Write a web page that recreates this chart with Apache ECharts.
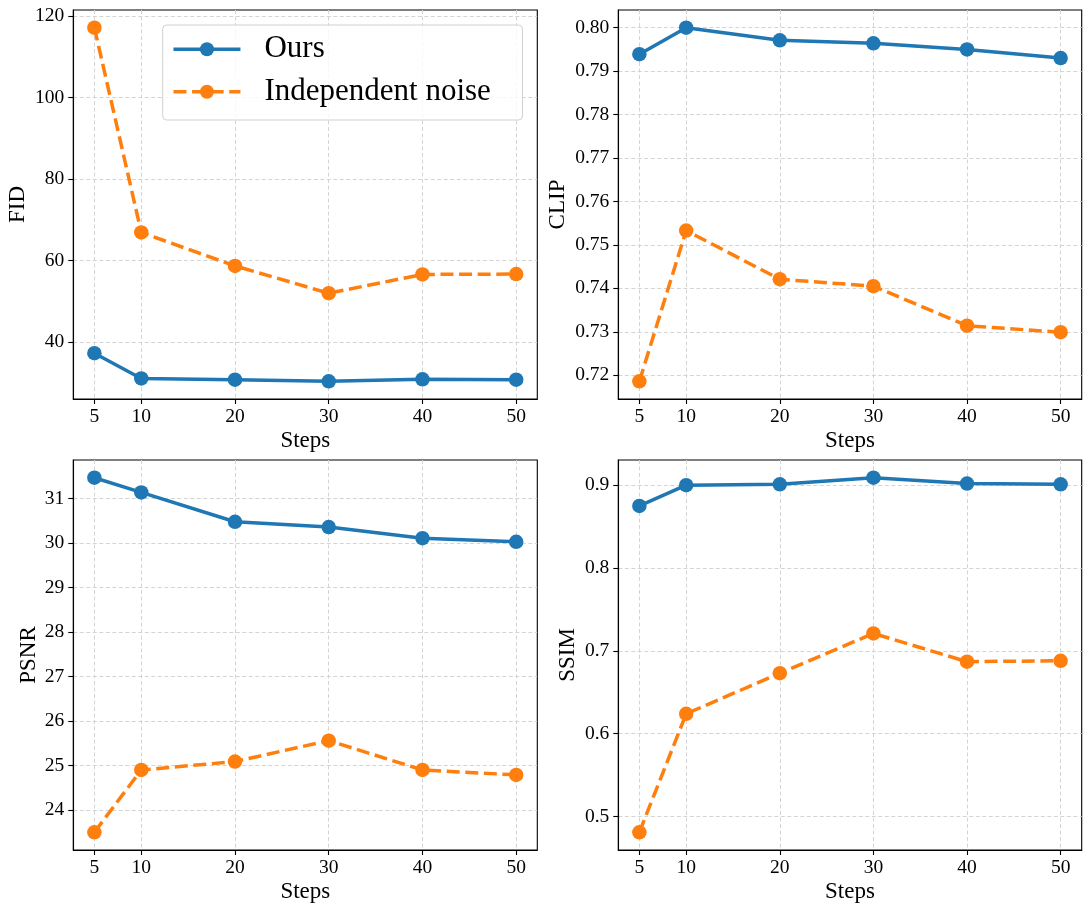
<!DOCTYPE html>
<html>
<head>
<meta charset="utf-8">
<script src="https://cdn.jsdelivr.net/npm/echarts@6/dist/echarts.min.js"></script>
<style>
html,body{margin:0;padding:0;background:#fff;}
#chart{width:1091px;height:911px;}
</style>
</head>
<body>
<div id="chart"></div>
<script>
// ---- data ----
const steps = [5, 10, 20, 30, 40, 50];
const fidOurs = [37.3, 31.1, 30.8, 30.4, 30.9, 30.8];
const fidIndep = [117.1, 66.9, 58.7, 52.0, 56.6, 56.7];
const clipOurs = [0.7939, 0.8000, 0.7971, 0.7964, 0.7950, 0.7930];
const clipIndep = [0.7186, 0.7533, 0.7421, 0.7405, 0.7314, 0.7299];
const psnrOurs = [31.47, 31.14, 30.48, 30.36, 30.11, 30.03];
const psnrIndep = [23.50, 24.90, 25.09, 25.56, 24.90, 24.79];
const ssimOurs = [0.875, 0.900, 0.901, 0.909, 0.902, 0.901];
const ssimIndep = [0.481, 0.624, 0.673, 0.721, 0.687, 0.688];

// ---- tick labels ----
const stepTicks = [5, 10, 20, 30, 40, 50];
const fidTicks = [40, 60, 80, 100, 120];
const clipTicks = [0.72, 0.73, 0.74, 0.75, 0.76, 0.77, 0.78, 0.79, 0.80];
const psnrTicks = [24, 25, 26, 27, 28, 29, 30, 31];
const ssimTicks = [0.5, 0.6, 0.7, 0.8, 0.9];

const seriesNames = ['Ours', 'Independent noise'];
const panelNames = ['FID', 'CLIP', 'PSNR', 'SSIM'];

const FONT = 'Liberation Serif';
const BLUE = '#1f77b4';
const ORANGE = '#ff7f0e';

const panels = [
  {name: 'FID', ours: fidOurs, indep: fidIndep, ticks: fidTicks, dec: 0, nameGap: 44,
   grid: {left: 73.3, top: 10, width: 464, height: 389}},
  {name: 'CLIP', ours: clipOurs, indep: clipIndep, ticks: clipTicks, dec: 2, nameGap: 49,
   grid: {left: 618.3, top: 10, width: 463.4, height: 389}},
  {name: 'PSNR', ours: psnrOurs, indep: psnrIndep, ticks: psnrTicks, dec: 0, nameGap: 33,
   grid: {left: 73.3, top: 460, width: 464, height: 390}},
  {name: 'SSIM', ours: ssimOurs, indep: ssimIndep, ticks: ssimTicks, dec: 1, nameGap: 39,
   grid: {left: 618.3, top: 460, width: 463.4, height: 390}}
];

function padRange(vals) {
  const lo = Math.min.apply(null, vals), hi = Math.max.apply(null, vals);
  const m = (hi - lo) * 0.05;
  return [lo - m, hi + m];
}
const xr = padRange(steps);

const gridLine = {show: true, lineStyle: {color: '#d4d4d4', width: 1, type: [4, 2.5]}};
const axisLineStyle = {show: true, lineStyle: {color: '#000', width: 1.1}};

const grids = [], xAxes = [], yAxes = [], series = [];
panels.forEach((p, i) => {
  grids.push(Object.assign({show: true, borderColor: '#000', borderWidth: 1.1, backgroundColor: 'transparent'}, p.grid));
  xAxes.push({
    type: 'value', gridIndex: i, min: xr[0], max: xr[1],
    name: 'Steps', nameLocation: 'middle', nameGap: 30,
    nameTextStyle: {fontFamily: FONT, fontSize: 23, color: '#000'},
    axisLine: axisLineStyle,
    axisTick: {show: true, customValues: stepTicks, length: 5, lineStyle: {color: '#000', width: 1.1}},
    axisLabel: {customValues: stepTicks, fontFamily: FONT, fontSize: 19.5, color: '#000', margin: 8},
    splitLine: gridLine
  });
  const yr = padRange(p.ours.concat(p.indep));
  yAxes.push({
    type: 'value', gridIndex: i, min: yr[0], max: yr[1],
    name: p.name, nameLocation: 'middle', nameGap: p.nameGap, nameRotate: 90,
    nameTextStyle: {fontFamily: FONT, fontSize: 23, color: '#000'},
    axisLine: axisLineStyle,
    axisTick: {show: true, customValues: p.ticks, length: 5, lineStyle: {color: '#000', width: 1.1}},
    axisLabel: {customValues: p.ticks, fontFamily: FONT, fontSize: 19.5, color: '#000', margin: 9,
      formatter: v => Number(v).toFixed(p.dec)},
    splitLine: gridLine
  });
  series.push({
    name: seriesNames[0], type: 'line', xAxisIndex: i, yAxisIndex: i,
    data: steps.map((s, k) => [s, p.ours[k]]),
    symbol: 'circle', symbolSize: 14.5, showSymbol: true,
    itemStyle: {color: BLUE}, lineStyle: {color: BLUE, width: 3.5, type: 'solid'},
    z: 3, silent: true
  });
  series.push({
    name: seriesNames[1], type: 'line', xAxisIndex: i, yAxisIndex: i,
    data: steps.map((s, k) => [s, p.indep[k]]),
    symbol: 'circle', symbolSize: 14.5, showSymbol: true,
    itemStyle: {color: ORANGE}, lineStyle: {color: ORANGE, width: 3.5, type: [13, 5.6]},
    z: 3, silent: true
  });
});

const chart = echarts.init(document.getElementById('chart'), null, {renderer: 'canvas'});
chart.setOption({
  animation: false,
  backgroundColor: '#fff',
  grid: grids,
  xAxis: xAxes,
  yAxis: yAxes,
  legend: {
    data: seriesNames,
    orient: 'vertical',
    left: 162.7, top: 25,
    padding: [7.3, 9, 11.3, 9],
    itemGap: 8.4,
    itemWidth: 67, itemHeight: 17.5,
    backgroundColor: 'rgba(255,255,255,0.8)',
    borderColor: '#d0d0d0', borderWidth: 1, borderRadius: 4,
    lineStyle: {width: 3.5},
    textStyle: {fontFamily: FONT, fontSize: 31, color: '#000', lineHeight: 30, width: 249, padding: [4, 0, 0, 19]},
    selectedMode: false
  },
  series: series
});
</script>
</body>
</html>
